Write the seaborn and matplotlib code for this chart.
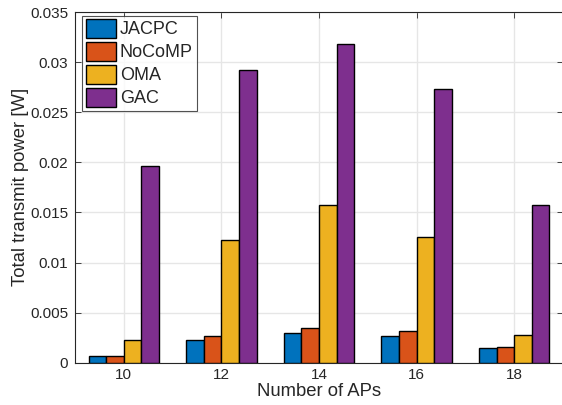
import matplotlib
matplotlib.use("Agg")
import matplotlib.pyplot as plt
import seaborn as sns
import pandas as pd
import numpy as np

aps = ["10", "12", "14", "16", "18"]
jacpc = [0.0007, 0.00226, 0.00296, 0.0027, 0.0015]
nocomp = [0.0007, 0.0027, 0.0035, 0.0032, 0.0016]
oma = [0.00226, 0.01228, 0.0157, 0.01251, 0.0028]
gac = [0.01963, 0.02924, 0.0318, 0.02729, 0.01571]
schemes = ["JACPC", "NoCoMP", "OMA", "GAC"]
colors = ["#0072BD", "#D95319", "#EDB120", "#7E2F8E"]

rows = []
for name, vals in zip(schemes, [jacpc, nocomp, oma, gac]):
    for a, v in zip(aps, vals):
        rows.append({"APs": a, "Scheme": name, "Power": v})
df = pd.DataFrame(rows)

sns.set_style("white")
plt.rcParams["font.family"] = ["Liberation Sans", "DejaVu Sans"]

fig = plt.figure(figsize=(5.62, 4.05), dpi=100)
ax = fig.add_axes([75/562, 1-362.7/405, (563-75)/562, (362.7-12)/405])

sns.barplot(data=df, x="APs", y="Power", hue="Scheme", order=aps,
            hue_order=schemes, palette=colors, width=0.72, gap=0.0,
            edgecolor="black", linewidth=1.0, saturation=1, ax=ax, zorder=3)

ax.set_xlim(-0.5, 4.5)
ax.set_ylim(0, 0.035)
ax.set_yticks(np.arange(0, 0.0351, 0.005))
ax.set_yticklabels(["0", "0.005", "0.01", "0.015", "0.02", "0.025", "0.03", "0.035"])
ax.grid(True, color="#e6e6e6", linewidth=1.0, zorder=0)
ax.set_axisbelow(True)
for s in ax.spines.values():
    s.set_color("#262626")
    s.set_linewidth(0.8)
ax.tick_params(direction="in", length=4, width=0.6, colors="#262626",
               labelsize=11, top=True, right=True, bottom=True, left=True)
ax.tick_params(axis="y", pad=5)
ax.set_xlabel("Number of APs", fontsize=13.3, color="#262626", labelpad=1)
ax.set_ylabel("Total transmit power [W]", fontsize=13.3, color="#262626", labelpad=1)

leg = ax.legend(loc="upper left", bbox_to_anchor=(0.0143, 0.99), fontsize=13,
                frameon=True, fancybox=False, edgecolor="#262626",
                handlelength=1.7, handleheight=1.2, handletextpad=0.2,
                labelspacing=0.2, borderpad=0.2, borderaxespad=0.0)
leg.get_frame().set_linewidth(0.8)

fig.savefig("out.png", dpi=100)
